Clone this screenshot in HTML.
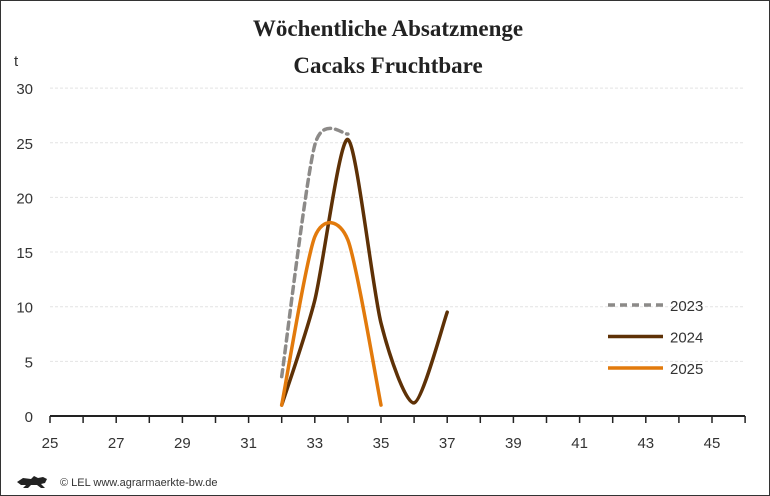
<!DOCTYPE html>
<html><head><meta charset="utf-8"><style>
body{margin:0;background:#fff}
svg{display:block;font-family:"Liberation Sans",sans-serif}
</style></head><body>
<svg id="chart" width="770" height="496" viewBox="0 0 770 496">
<rect x="0.5" y="0.5" width="769" height="495" fill="#fff" stroke="#333"/>
<text x="388" y="36" text-anchor="middle" font-family="Liberation Serif,serif" font-weight="bold" font-size="23" fill="#222">Wöchentliche Absatzmenge</text>
<text x="388" y="73" text-anchor="middle" font-family="Liberation Serif,serif" font-weight="bold" font-size="23" fill="#222">Cacaks Fruchtbare</text>
<text x="14" y="66" font-size="15" fill="#333">t</text>
<g id="grid"></g><g id="axis"></g><g id="series"></g><g id="legend"></g>
<text x="60" y="486" font-size="11" fill="#333">© LEL www.agrarmaerkte-bw.de</text>
<path d="M17 482 l6 -4 l8 1 l3 -3 l4 2 l5 -1 l4 2 l-2 4 l-4 1 l4 4 l-4 0 l-4 -3 l-6 0 l-3 3 l-5 0 l3 -3 l-5 0z" fill="#222"/>
</svg>
<script>
var weeks=[25,26,27,28,29,30,31,32,33,34,35,36,37,38,39,40,41,42,43,44,45,46];
var yTicks=[0,5,10,15,20,25,30];
var s2023W=[32,33,34];var s2023V=[3.6,24.8,25.8];
var s2024W=[32,33,34,35,36,37];var s2024V=[1,10.6,25.3,8.5,1.2,9.5];
var s2025W=[32,33,34,35];var s2025V=[1,16.4,16.1,1];
var seriesNames=["2023","2024","2025"];
var NS="http://www.w3.org/2000/svg";
function X(w){return 50+(w-25)*33.1;}
function Y(v){return 416-v*10.93;}
function mk(tag,attrs,parent,text){var e=document.createElementNS(NS,tag);for(var k in attrs)e.setAttribute(k,attrs[k]);if(text!==undefined)e.textContent=String(text);parent.appendChild(e);return e;}
var grid=document.getElementById('grid'),axis=document.getElementById('axis'),ser=document.getElementById('series'),leg=document.getElementById('legend');
yTicks.forEach(function(t){
 if(t>0){var l=mk('line',{x1:50,x2:745,y1:Y(t),y2:Y(t),stroke:'#e4e4e4','stroke-dasharray':'3 2'},grid);
 
 }
 var tx=mk('text',{x:33,y:Y(t)+6,'text-anchor':'end','font-size':15,fill:'#333'},axis,t);
 
 
});
var ax=mk('line',{x1:50,x2:745,y1:416,y2:416,stroke:'#222','stroke-width':2},axis);


weeks.forEach(function(w,i){
 var tk=mk('line',{x1:X(w),x2:X(w),y1:416,y2:423,stroke:'#222','stroke-width':1.5},axis);
 
 
 if(i%2===0&&w<46){var tx=mk('text',{x:X(w),y:448,'text-anchor':'middle','font-size':15,fill:'#333'},axis,w);
 
 }
});
function path(ws,vs){var p=ws.map(function(w,i){return [X(w),Y(vs[i])];});var d='M'+p[0][0]+' '+p[0][1];var t=0.25;
 for(var i=0;i<p.length-1;i++){var p0=p[i-1]||p[i],p1=p[i],p2=p[i+1],p3=p[i+2]||p2;
 var c1=[p1[0]+(p2[0]-p0[0])*t/2,p1[1]+(p2[1]-p0[1])*t/2],c2=[p2[0]-(p3[0]-p1[0])*t/2,p2[1]-(p3[1]-p1[1])*t/2];
 d+=' C'+c1[0]+' '+c1[1]+' '+c2[0]+' '+c2[1]+' '+p2[0]+' '+p2[1];}return d;}
var defs=[[s2023W,s2023V,'#8c8a88','7 5'],[s2024W,s2024V,'#5e3106',''],[s2025W,s2025V,'#e27a0c','']];
defs.forEach(function(s,i){
 var a={d:path(s[0],s[1]),fill:'none',stroke:s[2],'stroke-width':3.5,'stroke-linecap':'round'};if(s[3])a['stroke-dasharray']=s[3];
 var p=mk('path',a,ser);
 
 
 var ly=305+i*31.5;
 var la={x1:608,x2:663,y1:ly,y2:ly,stroke:s[2],'stroke-width':3.5};if(s[3])la['stroke-dasharray']=s[3];
 var ll=mk('line',la,leg);
 
 
 var lt=mk('text',{x:670,y:ly+6,'font-size':15,fill:'#333'},leg,seriesNames[i]);
 
 
});
</script>
</body></html>
